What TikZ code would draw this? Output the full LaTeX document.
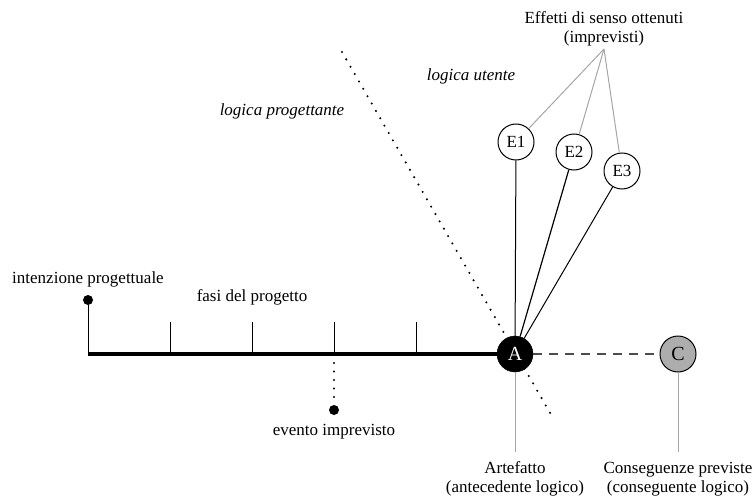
\documentclass[tikz,border=0pt]{standalone}
\usepackage{fontspec}
\setmainfont{Liberation Serif}
\usetikzlibrary{calc}
\begin{document}
\begin{tikzpicture}[x=1pt,y=-1pt,
  lbl/.style={inner sep=0pt,font=\fontsize{17}{19}\selectfont,align=center},
  ilbl/.style={inner sep=0pt,font=\fontsize{17}{19}\selectfont\itshape},
  ecirc/.style={circle,draw,line width=1pt,minimum size=36pt,inner sep=0pt,fill=white,font=\fontsize{17}{19}\selectfont},
  dotline/.style={line width=2.3pt,line cap=round,dash pattern=on 0pt off 8.5pt},
  greyline/.style={draw=black!35,line width=1pt},
  blk/.style={line width=1pt},
  bigdot/.style={circle,fill=black,minimum size=10pt,inner sep=0pt}]
\useasboundingbox (0,0) rectangle (752,500);
% main timeline
\coordinate (L0) at (88,354);
\coordinate (T1) at (170,354);
\coordinate (T2) at (252,354);
\coordinate (T3) at (334,354);
\coordinate (T4) at (416,354);
\node[bigdot] (I) at (88,300) {};
\coordinate (T1t) at (170,322);
\coordinate (T2t) at (252,322);
\coordinate (T3t) at (334,322);
\coordinate (T4t) at (416,322);
\node[bigdot] (EV) at (334,410) {};
% dotted diagonal
\coordinate (D1) at (342,52);
\coordinate (D2) at (553,418);
\draw[dotline] (D1) -- (D2);
\draw[line width=4pt] (L0) -- (515,354);
\draw[blk] (L0) -- (I);
\foreach \t in {1,2,3,4} \draw[blk] (T\t) -- (T\t t);
\draw[dotline] ($(T3)+(0,9)$) -- (EV);
% A and C
\coordinate (Cv) at (604,49);
\node[ecirc] (E1) at (516,142) {E1};
\node[ecirc] (E2) at (574,152) {E2};
\node[ecirc] (E3) at (622,171) {E3};
\node[circle,draw,fill=black,minimum size=36pt,inner sep=0pt,text=white,font=\fontsize{20}{22}\selectfont] (A) at (515,354) {A};
\node[circle,draw,line width=1pt,fill=black!32,minimum size=36pt,inner sep=0pt,font=\fontsize{20}{22}\selectfont] (C) at (678,354) {C};
\draw[draw=black!70,line width=1.4pt,dash pattern=on 9pt off 7pt] (A) -- (C);
\draw[blk] (A) -- (E1);
\draw[blk,line width=1.2pt] (A) -- (E2);
\draw[blk] (A) -- (E3);
\draw[greyline] (Cv) -- (E1);
\draw[greyline] (Cv) -- (E2);
\draw[greyline] (Cv) -- (E3);
\coordinate (Ab) at (515,452);
\coordinate (Cb) at (678,452);
\draw[greyline] (A) -- (Ab);
\draw[greyline] (C) -- (Cb);
% labels
\node[lbl] (tI) at (88,279) {intenzione progettuale};
\node[lbl] (tF) at (252,297) {fasi del progetto};
\node[lbl] (tEV) at (334,432) {evento imprevisto};
\node[ilbl] (tLP) at (282,111) {logica progettante};
\node[ilbl] (tLU) at (471,76) {logica utente};
\node[lbl] (tE) at (604,29) {Effetti di senso ottenuti\\(imprevisti)};
\node[lbl] (tA) at (515,479) {Artefatto\\(antecedente logico)};
\node[lbl] (tC) at (678,479) {Conseguenze previste\\(conseguente logico)};
\end{tikzpicture}
\end{document}
